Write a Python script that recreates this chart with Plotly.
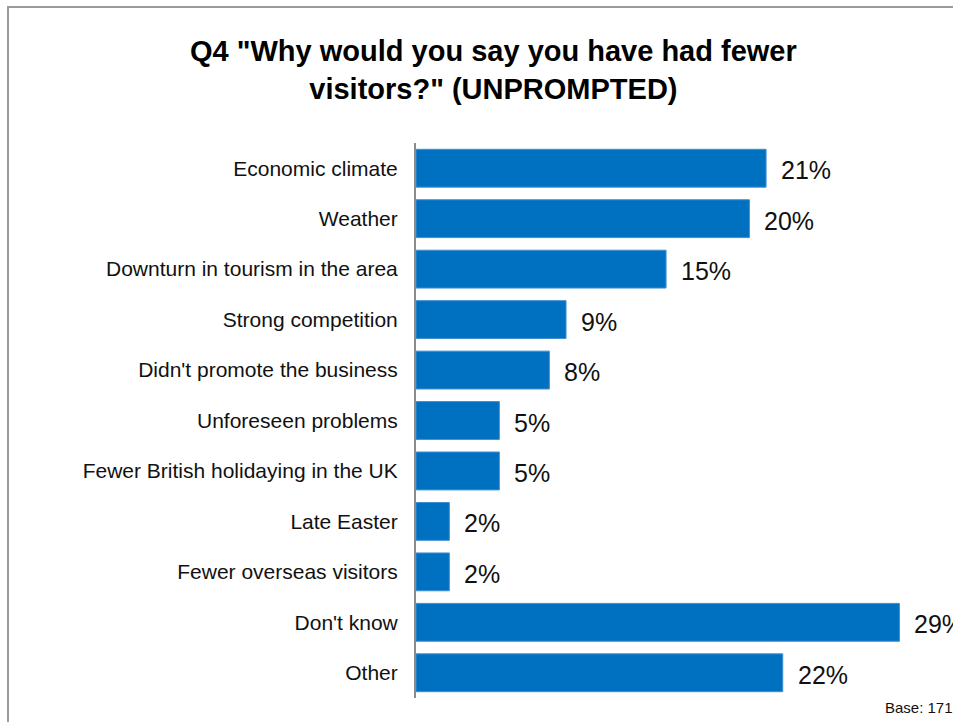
import plotly.graph_objects as go

categories = [
    "Economic climate",
    "Weather",
    "Downturn in tourism in the area",
    "Strong competition",
    "Didn't promote the business",
    "Unforeseen problems",
    "Fewer British holidaying in the UK",
    "Late Easter",
    "Fewer overseas visitors",
    "Don't know",
    "Other",
]
values = [21, 20, 15, 9, 8, 5, 5, 2, 2, 29, 22]
value_labels = [f"{v}%" for v in values]

title_text = 'Q4 "Why would you say you have had fewer<br>visitors?" (UNPROMPTED)'
base_text = "Base: 171"

FONT = "Arial, 'Liberation Sans', sans-serif"
BLUE = "#0070C0"

W, H = 953, 722
L, R, T, B = 416, 4, 143, 24
pw = W - L - R
ph = H - T - B

fig = go.Figure()
fig.add_trace(go.Bar(
    x=values,
    y=categories,
    orientation="h",
    marker=dict(color=BLUE, line=dict(color="#3f8fd2", width=1)),
    hoverinfo="x+y",
))

for c, v, t in zip(categories, values, value_labels):
    fig.add_annotation(
        x=v, y=c, xref="x", yref="y", text=t, showarrow=False,
        xanchor="left", yanchor="middle", xshift=13, yshift=-2,
        font=dict(family=FONT, size=25, color="#111111"),
    )

# title
fig.add_annotation(
    xref="paper", yref="paper",
    x=(493 - L) / pw, y=1 + (T - 70) / ph,
    text="<b>" + title_text + "</b>", showarrow=False,
    xanchor="center", yanchor="middle", align="center",
    font=dict(family=FONT, size=29, color="#000000"),
)
# base note
fig.add_annotation(
    xref="paper", yref="paper",
    x=(883 - L) / pw, y=-(707 - (H - B)) / ph,
    text=base_text, showarrow=False,
    xanchor="left", yanchor="middle",
    font=dict(family=FONT, size=15, color="#111111"),
)

# outer border of chart area
fig.add_shape(
    type="rect", xref="paper", yref="paper",
    x0=(8 - L) / pw, x1=(W + 20 - L) / pw,
    y0=-(H + 20 - (H - B)) / ph, y1=1 + (T - 7) / ph,
    line=dict(color="#9a9a9a", width=2), fillcolor="rgba(0,0,0,0)",
    layer="below",
)

fig.update_layout(
    width=W, height=H,
    margin=dict(l=L, r=R, t=T, b=B, autoexpand=False),
    paper_bgcolor="white", plot_bgcolor="white",
    showlegend=False,
    bargap=0.25,
    font=dict(family=FONT, color="#111111"),
    xaxis=dict(range=[0, pw / 16.67], visible=False, fixedrange=True),
    yaxis=dict(
        autorange="reversed",
        showline=True, linecolor="#8c8c8c", linewidth=2,
        ticks="", showgrid=False, zeroline=False,
        ticklabelstandoff=12,
        tickfont=dict(family=FONT, size=21, color="#111111"),
    ),
)

fig.write_html("out.html")
